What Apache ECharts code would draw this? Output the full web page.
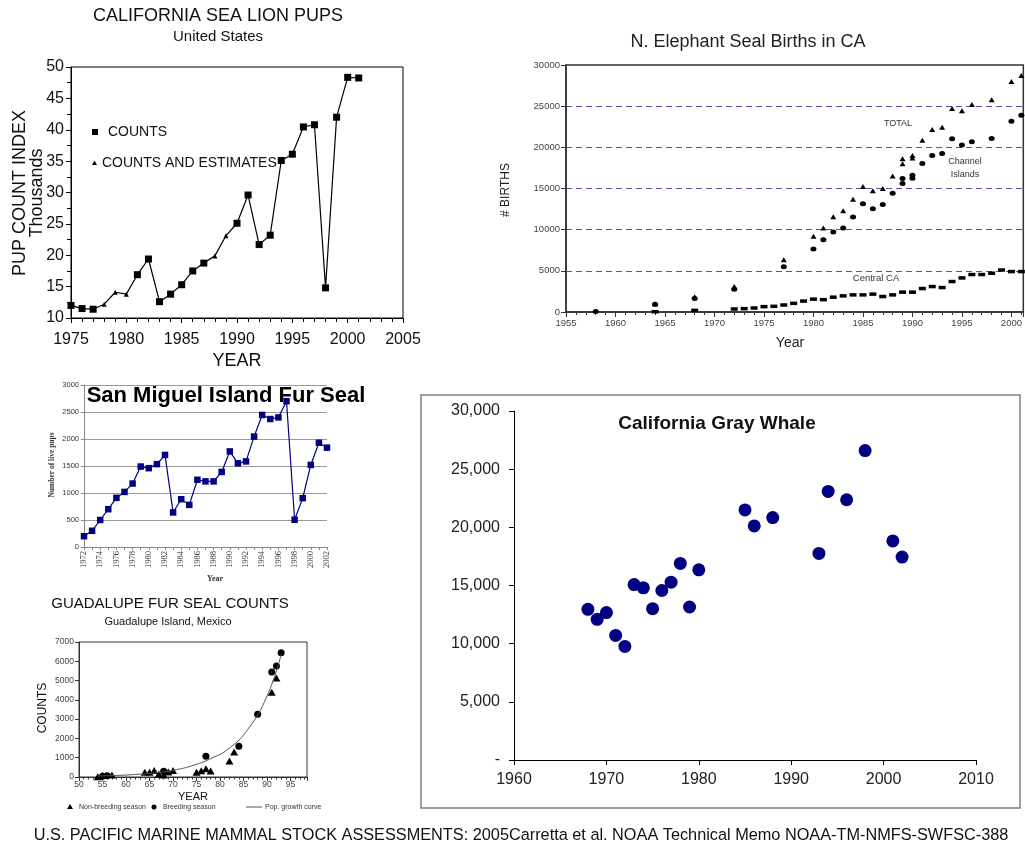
<!DOCTYPE html>
<html>
<head>
<meta charset="utf-8">
<script src="https://cdn.jsdelivr.net/npm/echarts@6/dist/echarts.min.js"></script>
<style>
  html, body { margin: 0; padding: 0; background: #fff; }
  #chart { width: 1025px; height: 847px; }
</style>
</head>
<body>
<div id="chart"></div>
<script>
// ---- California sea lion pup count index (thousands) ----
const seaLionYears = [1975,1976,1977,1978,1979,1980,1981,1982,1983,1984,1985,1986,1987,1988,1989,1990,1991,1992,1993,1994,1995,1996,1997,1998,1999,2000,2001];
const seaLionPups = [12.0,11.5,11.4,12.2,14.1,13.8,16.9,19.4,12.6,13.8,15.3,17.5,18.75,19.9,23.1,25.1,29.6,21.7,23.2,35.1,36.1,40.45,40.8,14.8,42.0,48.35,48.25];
const seaLionEstimateYears = [1978,1979,1980,1988,1989];

// ---- Northern elephant seal births in California ----
const sealTotalYears = [1964,1968,1972,1977,1980,1981,1982,1983,1984,1985,1986,1987,1988,1989,1989,1990,1990,1991,1992,1993,1994,1995,1996,1998,2000,2001];
const sealTotalBirths = [970,1850,3100,6360,9190,10200,11580,12300,13700,15240,14720,15000,16520,18600,18000,19000,18700,20870,22160,22440,24730,24450,25210,25780,27990,28710];
const sealChannelYears = [1958,1964,1968,1972,1977,1980,1981,1982,1983,1984,1985,1986,1987,1988,1989,1989,1990,1990,1991,1992,1993,1994,1995,1996,1998,2000,2001];
const sealChannelBirths = [50,940,1650,2750,5500,7650,8790,9720,10200,11550,13150,12550,13070,14430,16200,15600,16600,16250,18050,19020,19260,21030,20270,20670,21070,23160,23890];
const sealCentralYears = [1964,1968,1972,1973,1974,1975,1976,1977,1978,1979,1980,1981,1982,1983,1984,1985,1986,1987,1988,1989,1990,1991,1992,1993,1994,1995,1996,1997,1998,1999,2000,2001];
const sealCentralBirths = [30,200,365,405,485,650,690,850,1050,1330,1560,1500,1800,1960,2080,2080,2170,1880,2080,2410,2410,2850,3090,2970,3700,4140,4550,4550,4710,5100,4910,4910];

// ---- San Miguel Island northern fur seal live pups ----
const furSealYears = [1972,1973,1974,1975,1976,1977,1978,1979,1980,1981,1982,1983,1984,1985,1986,1987,1988,1989,1990,1991,1992,1993,1994,1995,1996,1997,1998,1999,2000,2001,2002];
const furSealPups = [200,300,500,700,910,1020,1175,1490,1460,1535,1705,640,885,780,1245,1215,1215,1390,1770,1550,1585,2045,2445,2370,2400,2700,505,905,1520,1930,1840];

// ---- Guadalupe fur seal counts (two-digit years, 19xx) ----
const guadNonBreedYears = [54,55,57,64,65,66,67,68,69,70,75,76,77,78,82,83,91,92];
const guadNonBreedCounts = [10,80,100,250,250,340,160,110,260,340,250,330,430,310,830,1290,4400,5130];
const guadBreedYears = [55,56,68,77,84,88,91,92,93];
const guadBreedCounts = [40,70,300,1070,1590,3250,5440,5750,6440];
const guadCurveYears = [54,58,62,66,70,74,78,82,86,90,93];
const guadCurveCounts = [50,80,130,210,350,580,950,1500,2500,4200,6350];

// ---- California gray whale abundance ----
const whaleYears = [1968,1969,1970,1971,1972,1973,1974,1975,1976,1977,1978,1979,1980,1985,1986,1988,1993,1994,1996,1998,2001,2002];
const whaleCounts = [12950,12090,12670,10710,9760,15080,14800,13010,14570,15290,16900,13150,16350,21500,20120,20840,17760,23090,22370,26600,18830,17440];

const FONT = '"Liberation Sans", Arial, sans-serif';
const SERIF = '"Liberation Serif", "Times New Roman", serif';

const pairs = (xs, ys) => xs.map((x, i) => [x, ys[i]]);
const plain = v => String(v);
const every5 = v => (v % 5 === 0 ? String(v) : '');

const chart = echarts.init(document.getElementById('chart'), null, { renderer: 'canvas' });

const option = {
  animation: false,
  backgroundColor: '#fff',
  textStyle: { fontFamily: FONT },
  grid: [
    { left: 71, top: 67, width: 332, height: 251, show: true, borderColor: '#000', borderWidth: 1 },
    { left: 566, top: 65, width: 458, height: 247, show: true, borderColor: '#333', borderWidth: 1.5 },
    { left: 84, top: 385, width: 243, height: 162 },
    { left: 79, top: 642, width: 228, height: 135, show: true, borderColor: '#333', borderWidth: 1 },
    { left: 514, top: 411, width: 462, height: 349 }
  ],
  xAxis: [
    {
      gridIndex: 0, type: 'value', min: 1975, max: 2005, interval: 5,
      axisLine: { show: true, onZero: false, lineStyle: { color: '#000', width: 1 } },
      axisTick: { show: true, length: 5, lineStyle: { color: '#000' } },
      minorTick: { show: true, splitNumber: 5, length: 4, lineStyle: { color: '#000' } },
      axisLabel: { fontSize: 16, color: '#111', margin: 14, fontFamily: FONT, formatter: plain },
      splitLine: { show: false }
    },
    {
      gridIndex: 1, type: 'value', min: 1955, max: 2001.2, interval: 5,
      axisLine: { show: true, onZero: false, lineStyle: { color: '#333', width: 1.5 } },
      axisTick: { show: true, length: 5, lineStyle: { color: '#333' } },
      minorTick: { show: true, splitNumber: 5, length: 3, lineStyle: { color: '#333' } },
      axisLabel: { fontSize: 9.5, color: '#444', margin: 6, formatter: every5, showMaxLabel: false, fontFamily: FONT },
      splitLine: { show: false }
    },
    {
      gridIndex: 2, type: 'category', data: furSealYears.map(String), boundaryGap: false,
      axisLine: { show: true, lineStyle: { color: '#888' } },
      axisTick: { show: true, interval: 0, length: 3, lineStyle: { color: '#888' } },
      axisLabel: { interval: 1, rotate: 90, fontSize: 8.5, color: '#333', margin: 4, fontFamily: SERIF },
      splitLine: { show: false }
    },
    {
      gridIndex: 3, type: 'value', min: 50, max: 98.5, interval: 5,
      axisLine: { show: true, onZero: false, lineStyle: { color: '#333' } },
      axisTick: { show: true, length: 4, lineStyle: { color: '#333' } },
      minorTick: { show: true, splitNumber: 5, length: 2.5, lineStyle: { color: '#333' } },
      axisLabel: { fontSize: 8.5, color: '#444', margin: 3, formatter: every5, showMaxLabel: false, fontFamily: FONT },
      splitLine: { show: false }
    },
    {
      gridIndex: 4, type: 'value', min: 1960, max: 2010, interval: 10,
      axisLine: { show: true, onZero: false, lineStyle: { color: '#000', width: 1 } },
      axisTick: { show: true, length: 5, lineStyle: { color: '#000' } },
      axisLabel: { fontSize: 16, color: '#222', margin: 12, fontFamily: FONT, formatter: plain },
      splitLine: { show: false }
    }
  ],
  yAxis: [
    {
      gridIndex: 0, type: 'value', min: 10, max: 50, interval: 5,
      axisLine: { show: true, onZero: false, lineStyle: { color: '#000', width: 1 } },
      axisTick: { show: true, length: 5, lineStyle: { color: '#000' } },
      minorTick: { show: true, splitNumber: 2, length: 4, lineStyle: { color: '#000' } },
      axisLabel: { fontSize: 16, color: '#111', margin: 7, fontFamily: FONT, formatter: plain },
      splitLine: { show: false }
    },
    {
      gridIndex: 1, type: 'value', min: 0, max: 30000, interval: 5000,
      axisLine: { show: true, onZero: false, lineStyle: { color: '#333', width: 1.5 } },
      axisTick: { show: true, length: 5, lineStyle: { color: '#333' } },
      axisLabel: { fontSize: 9.5, color: '#444', margin: 6, fontFamily: FONT, formatter: plain },
      splitLine: { show: true, showMinLine: false, showMaxLine: false, lineStyle: { color: '#5252a6', type: [6, 4], width: 1 } }
    },
    {
      gridIndex: 2, type: 'value', min: 0, max: 3000, interval: 500,
      axisLine: { show: true, lineStyle: { color: '#888' } },
      axisTick: { show: true, length: 3, lineStyle: { color: '#888' } },
      axisLabel: { fontSize: 7.5, color: '#333', margin: 5, fontFamily: FONT, formatter: plain },
      splitLine: { show: true, showMinLine: false, lineStyle: { color: '#999', width: 1 } }
    },
    {
      gridIndex: 3, type: 'value', min: 0, max: 7000, interval: 1000,
      axisLine: { show: true, onZero: false, lineStyle: { color: '#333' } },
      axisTick: { show: true, length: 4, lineStyle: { color: '#333' } },
      axisLabel: { fontSize: 8.5, color: '#444', margin: 5, fontFamily: FONT, formatter: plain },
      splitLine: { show: false }
    },
    {
      gridIndex: 4, type: 'value', min: 0, max: 30000, interval: 5000,
      axisLine: { show: true, onZero: false, lineStyle: { color: '#000', width: 1 } },
      axisTick: { show: true, length: 5, lineStyle: { color: '#000' } },
      axisLabel: {
        fontSize: 16, color: '#222', margin: 14, fontFamily: FONT,
        formatter: v => (v === 0 ? '-' : v.toLocaleString('en-US'))
      },
      splitLine: { show: false }
    }
  ],
  series: [
    {
      name: 'Sea lion pups', type: 'line', xAxisIndex: 0, yAxisIndex: 0,
      data: seaLionYears.map((yr, i) => {
        const est = seaLionEstimateYears.includes(yr);
        return { value: [yr, seaLionPups[i]], symbol: est ? 'triangle' : 'rect', symbolSize: est ? [5, 5] : 7 };
      }),
      showSymbol: true, showAllSymbol: true,
      lineStyle: { color: '#000', width: 1.2 },
      itemStyle: { color: '#000', opacity: 1 }
    },
    {
      name: 'TOTAL', type: 'scatter', xAxisIndex: 1, yAxisIndex: 1,
      data: pairs(sealTotalYears, sealTotalBirths),
      symbol: 'triangle', symbolSize: [6, 5], itemStyle: { color: '#000', opacity: 1 }
    },
    {
      name: 'Channel Islands', type: 'scatter', xAxisIndex: 1, yAxisIndex: 1,
      data: pairs(sealChannelYears, sealChannelBirths),
      symbol: 'circle', symbolSize: [6, 5], itemStyle: { color: '#000', opacity: 1 }
    },
    {
      name: 'Central CA', type: 'scatter', xAxisIndex: 1, yAxisIndex: 1,
      data: pairs(sealCentralYears, sealCentralBirths),
      symbol: 'rect', symbolSize: [7, 3.5], itemStyle: { color: '#000', opacity: 1 }
    },
    {
      name: 'Number of live pups', type: 'line', xAxisIndex: 2, yAxisIndex: 2,
      data: furSealPups,
      symbol: 'rect', symbolSize: 6.5, showSymbol: true, showAllSymbol: true,
      lineStyle: { color: '#000080', width: 1.2 },
      itemStyle: { color: '#000080', opacity: 1 }
    },
    {
      name: 'Pop. growth curve', type: 'line', xAxisIndex: 3, yAxisIndex: 3,
      data: pairs(guadCurveYears, guadCurveCounts),
      smooth: true, showSymbol: false, symbol: 'none',
      lineStyle: { color: '#555', width: 1 }
    },
    {
      name: 'Non-breeding season', type: 'scatter', xAxisIndex: 3, yAxisIndex: 3,
      data: pairs(guadNonBreedYears, guadNonBreedCounts),
      symbol: 'triangle', symbolSize: [8, 7], itemStyle: { color: '#000', opacity: 1 }
    },
    {
      name: 'Breeding season', type: 'scatter', xAxisIndex: 3, yAxisIndex: 3,
      data: pairs(guadBreedYears, guadBreedCounts),
      symbol: 'circle', symbolSize: 7, itemStyle: { color: '#000', opacity: 1 }
    },
    {
      name: 'California Gray Whale', type: 'scatter', xAxisIndex: 4, yAxisIndex: 4,
      data: pairs(whaleYears, whaleCounts),
      symbol: 'circle', symbolSize: 13, itemStyle: { color: '#000080', opacity: 1 }
    }
  ],
  graphic: [
    // California sea lion titles and legend
    { type: 'text', x: 218, y: 16, style: { text: 'CALIFORNIA SEA LION PUPS', font: '18px ' + FONT, fill: '#111', align: 'center', verticalAlign: 'middle' } },
    { type: 'text', x: 218, y: 37, style: { text: 'United States', font: '15px ' + FONT, fill: '#111', align: 'center', verticalAlign: 'middle' } },
    { type: 'text', x: 20, y: 193, rotation: Math.PI / 2, style: { text: 'PUP COUNT INDEX', font: '18px ' + FONT, fill: '#111', align: 'center', verticalAlign: 'middle' } },
    { type: 'text', x: 37, y: 193, rotation: Math.PI / 2, style: { text: 'Thousands', font: '18px ' + FONT, fill: '#111', align: 'center', verticalAlign: 'middle' } },
    { type: 'text', x: 237, y: 361, style: { text: 'YEAR', font: '18px ' + FONT, fill: '#111', align: 'center', verticalAlign: 'middle' } },
    { type: 'rect', shape: { x: 92, y: 129, width: 6, height: 6 }, style: { fill: '#000' } },
    { type: 'text', x: 108, y: 132, style: { text: 'COUNTS', font: '14px ' + FONT, fill: '#111', verticalAlign: 'middle' } },
    { type: 'polygon', shape: { points: [[94.5, 160.5], [97, 165], [92, 165]] }, style: { fill: '#000' } },
    { type: 'text', x: 102, y: 163, style: { text: 'COUNTS AND ESTIMATES', font: '14px ' + FONT, fill: '#111', verticalAlign: 'middle' } },

    // Elephant seal titles and annotations
    { type: 'text', x: 748, y: 42, style: { text: 'N. Elephant Seal Births in CA', font: '18px ' + FONT, fill: '#222', align: 'center', verticalAlign: 'middle' } },
    { type: 'text', x: 506, y: 190, rotation: Math.PI / 2, style: { text: '# BIRTHS', font: '12px ' + FONT, fill: '#222', align: 'center', verticalAlign: 'middle' } },
    { type: 'text', x: 790, y: 343, style: { text: 'Year', font: '14px ' + FONT, fill: '#222', align: 'center', verticalAlign: 'middle' } },
    { type: 'text', x: 898, y: 124, style: { text: 'TOTAL', font: '9px ' + FONT, fill: '#333', align: 'center', verticalAlign: 'middle' } },
    { type: 'text', x: 965, y: 162, style: { text: 'Channel', font: '9px ' + FONT, fill: '#333', align: 'center', verticalAlign: 'middle' } },
    { type: 'text', x: 965, y: 175, style: { text: 'Islands', font: '9px ' + FONT, fill: '#333', align: 'center', verticalAlign: 'middle' } },
    { type: 'text', x: 876, y: 278, style: { text: 'Central CA', font: '9.5px ' + FONT, fill: '#333', align: 'center', verticalAlign: 'middle' } },

    // San Miguel Island fur seal
    { type: 'rect', z: 1, shape: { x: 85, y: 386, width: 282, height: 20 }, style: { fill: '#fff' } },
    { type: 'text', z: 1, x: 226, y: 396, style: { text: 'San Miguel Island Fur Seal', font: 'bold 22px ' + FONT, fill: '#000', align: 'center', verticalAlign: 'middle' } },
    { type: 'text', x: 52, y: 465, rotation: Math.PI / 2, style: { text: 'Number of live pups', font: 'bold 7.5px ' + SERIF, fill: '#333', align: 'center', verticalAlign: 'middle' } },
    { type: 'text', x: 215, y: 579, style: { text: 'Year', font: 'bold 8px ' + SERIF, fill: '#333', align: 'center', verticalAlign: 'middle' } },

    // Guadalupe fur seal
    { type: 'text', x: 170, y: 604, style: { text: 'GUADALUPE FUR SEAL COUNTS', font: '15px ' + FONT, fill: '#111', align: 'center', verticalAlign: 'middle' } },
    { type: 'text', x: 168, y: 622, style: { text: 'Guadalupe Island, Mexico', font: '11px ' + FONT, fill: '#111', align: 'center', verticalAlign: 'middle' } },
    { type: 'text', x: 43, y: 708, rotation: Math.PI / 2, style: { text: 'COUNTS', font: '12px ' + FONT, fill: '#111', align: 'center', verticalAlign: 'middle' } },
    { type: 'text', x: 193, y: 797, style: { text: 'YEAR', font: '11px ' + FONT, fill: '#111', align: 'center', verticalAlign: 'middle' } },
    { type: 'polygon', shape: { points: [[70, 804], [73, 809], [67, 809]] }, style: { fill: '#000' } },
    { type: 'text', x: 79, y: 807, style: { text: 'Non-breeding season', font: '7px ' + FONT, fill: '#333', verticalAlign: 'middle' } },
    { type: 'circle', shape: { cx: 154, cy: 807, r: 2.5 }, style: { fill: '#000' } },
    { type: 'text', x: 163, y: 807, style: { text: 'Breeding season', font: '7px ' + FONT, fill: '#333', verticalAlign: 'middle' } },
    { type: 'line', shape: { x1: 246, y1: 807, x2: 262, y2: 807 }, style: { stroke: '#555', lineWidth: 1 } },
    { type: 'text', x: 265, y: 807, style: { text: 'Pop. growth curve', font: '7px ' + FONT, fill: '#333', verticalAlign: 'middle' } },

    // Gray whale frame and title
    { type: 'rect', shape: { x: 421, y: 395, width: 599, height: 413 }, style: { fill: 'none', stroke: '#808080', lineWidth: 1.5 } },
    { type: 'text', x: 717, y: 424, style: { text: 'California Gray Whale', font: 'bold 19px ' + FONT, fill: '#111', align: 'center', verticalAlign: 'middle' } },

    // Source line
    { type: 'text', x: 521, y: 836, style: { text: 'U.S. PACIFIC MARINE MAMMAL STOCK ASSESSMENTS: 2005Carretta et al. NOAA Technical Memo NOAA-TM-NMFS-SWFSC-388', font: '16.3px ' + FONT, fill: '#111', align: 'center', verticalAlign: 'middle' } }
  ]
};

chart.setOption(option);
</script>
</body>
</html>
